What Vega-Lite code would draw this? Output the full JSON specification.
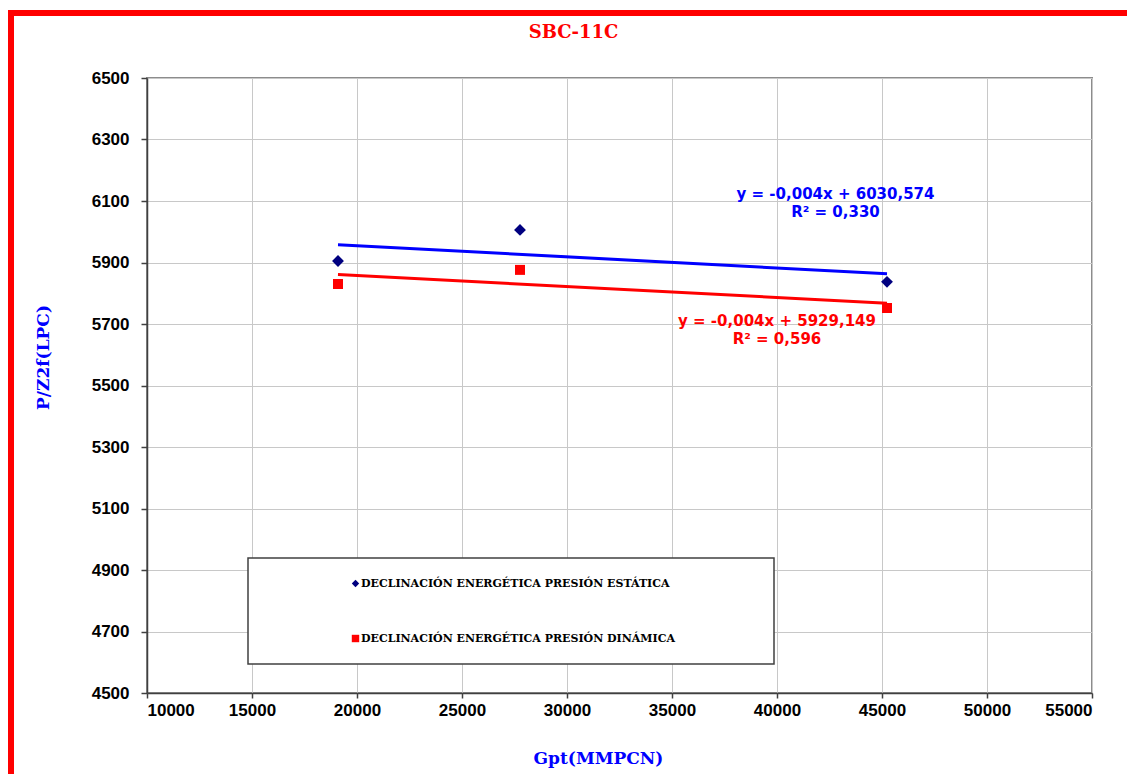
{
  "$schema": "https://vega.github.io/schema/vega-lite/v6.json",
  "width": 945,
  "height": 615,
  "autosize": {"type": "none"},
  "padding": {"left": 147, "top": 78, "right": 35, "bottom": 81},
  "background": "white",
  "title": {"text": "SBC-11C", "color": "#FF0000", "font": "DejaVu Serif", "fontSize": 18, "fontWeight": "bold", "anchor": "middle", "frame": "group", "dx": -46, "offset": -32},
  "config": {
    "view": {"stroke": "#8c8c8c", "strokeWidth": 2},
    "axis": {"labelFont": "Liberation Sans", "labelFontSize": 17, "labelFontWeight": "bold", "labelColor": "#000000", "domainColor": "#404040", "domainWidth": 1.5, "tickColor": "#404040", "tickWidth": 1.5, "gridColor": "#c8c8c8", "gridWidth": 1, "titleFont": "DejaVu Serif", "titleFontSize": 17, "titleFontWeight": "bold", "titleColor": "#0000FF"},
    "legend": {"strokeWidth": 1.5}
  },
  "datasets": {
    "puntos": [
      {"Gpt": 19095, "PZ": 5905, "serie": "DECLINACIÓN ENERGÉTICA PRESIÓN ESTÁTICA"},
      {"Gpt": 27762, "PZ": 6006, "serie": "DECLINACIÓN ENERGÉTICA PRESIÓN ESTÁTICA"},
      {"Gpt": 45238, "PZ": 5837, "serie": "DECLINACIÓN ENERGÉTICA PRESIÓN ESTÁTICA"},
      {"Gpt": 19095, "PZ": 5830, "serie": "DECLINACIÓN ENERGÉTICA PRESIÓN DINÁMICA"},
      {"Gpt": 27762, "PZ": 5876, "serie": "DECLINACIÓN ENERGÉTICA PRESIÓN DINÁMICA"},
      {"Gpt": 45238, "PZ": 5752, "serie": "DECLINACIÓN ENERGÉTICA PRESIÓN DINÁMICA"}
    ],
    "etiquetas": [
      {"Gpt": 42786, "PZ": 6123, "texto": "y = -0,004x + 6030,574", "serie": "DECLINACIÓN ENERGÉTICA PRESIÓN ESTÁTICA"},
      {"Gpt": 42786, "PZ": 6064, "texto": "R² = 0,330", "serie": "DECLINACIÓN ENERGÉTICA PRESIÓN ESTÁTICA"},
      {"Gpt": 40000, "PZ": 5710, "texto": "y = -0,004x + 5929,149", "serie": "DECLINACIÓN ENERGÉTICA PRESIÓN DINÁMICA"},
      {"Gpt": 40000, "PZ": 5651, "texto": "R² = 0,596", "serie": "DECLINACIÓN ENERGÉTICA PRESIÓN DINÁMICA"}
    ]
  },
  "encoding": {
    "x": {"field": "Gpt", "type": "quantitative", "scale": {"domain": [10000, 55000], "nice": false, "zero": false},
      "axis": {"title": "Gpt(MMPCN)", "values": [10000, 15000, 20000, 25000, 30000, 35000, 40000, 45000, 50000, 55000], "format": "d", "tickSize": 5, "labelPadding": 4, "titleX": 451, "titleY": 65, "titleAlign": "center", "titleBaseline": "middle"}},
    "y": {"field": "PZ", "type": "quantitative", "scale": {"domain": [4500, 6500], "nice": false, "zero": false},
      "axis": {"title": "P/Z2f(LPC)", "values": [4500, 4700, 4900, 5100, 5300, 5500, 5700, 5900, 6100, 6300, 6500], "format": "d", "tickSize": 6, "labelPadding": 12, "titleX": -104, "titleY": 279, "titleAngle": 270, "titleAlign": "center", "titleBaseline": "middle"}}
  },
  "layer": [
    {
      "data": {"values": [{"x1": 3524, "x2": 57500, "y1": 6711, "y2": 4200}]},
      "mark": {"type": "rect", "filled": false, "color": "#FF0000", "strokeWidth": 6, "clip": false},
      "encoding": {
        "x": {"field": "x1", "type": "quantitative"},
        "x2": {"field": "x2"},
        "y": {"field": "y1", "type": "quantitative"},
        "y2": {"field": "y2"}
      }
    },
    {
      "data": {"name": "puntos"},
      "transform": [{"regression": "PZ", "on": "Gpt", "groupby": ["serie"]}],
      "mark": {"type": "line", "strokeWidth": 3},
      "encoding": {
        "detail": {"field": "serie", "type": "nominal"},
        "stroke": {"condition": {"test": "datum.serie === 'DECLINACIÓN ENERGÉTICA PRESIÓN ESTÁTICA'", "value": "#0000FF"}, "value": "#FF0000"}
      }
    },
    {
      "data": {"name": "puntos"},
      "mark": {"type": "point", "filled": true, "opacity": 1},
      "encoding": {
        "size": {"condition": {"test": "datum.serie === 'DECLINACIÓN ENERGÉTICA PRESIÓN ESTÁTICA'", "value": 140}, "value": 100},
        "color": {"field": "serie", "type": "nominal", "scale": {"domain": ["DECLINACIÓN ENERGÉTICA PRESIÓN ESTÁTICA", "DECLINACIÓN ENERGÉTICA PRESIÓN DINÁMICA"], "range": ["#000080", "#FF0000"]},
          "legend": {"title": " ", "titleOrient": "right", "titlePadding": 79, "titleFontSize": 11, "orient": "none", "legendX": 101, "legendY": 480, "padding": 20, "rowPadding": 43, "strokeColor": "#404040", "fillColor": "white", "symbolOffset": 82, "labelOffset": 0, "labelFont": "DejaVu Serif", "labelFontSize": 11, "labelFontWeight": "bold", "labelColor": "#000000", "symbolSize": 55, "labelLimit": 600}},
        "shape": {"field": "serie", "type": "nominal", "scale": {"domain": ["DECLINACIÓN ENERGÉTICA PRESIÓN ESTÁTICA", "DECLINACIÓN ENERGÉTICA PRESIÓN DINÁMICA"], "range": ["diamond", "square"]},
          "legend": {"title": " ", "titleOrient": "right", "titlePadding": 79, "titleFontSize": 11, "orient": "none", "legendX": 101, "legendY": 480, "padding": 20, "rowPadding": 43, "strokeColor": "#404040", "fillColor": "white", "symbolOffset": 82, "labelOffset": 0, "labelFont": "DejaVu Serif", "labelFontSize": 11, "labelFontWeight": "bold", "labelColor": "#000000", "symbolSize": 55, "labelLimit": 600}}
      }
    },
    {
      "data": {"name": "etiquetas"},
      "mark": {"type": "text", "font": "DejaVu Sans", "fontSize": 15, "fontWeight": "bold", "align": "center", "baseline": "middle"},
      "encoding": {
        "text": {"field": "texto"},
        "fill": {"condition": {"test": "datum.serie === 'DECLINACIÓN ENERGÉTICA PRESIÓN ESTÁTICA'", "value": "#0000FF"}, "value": "#FF0000"}
      }
    }
  ]
}
